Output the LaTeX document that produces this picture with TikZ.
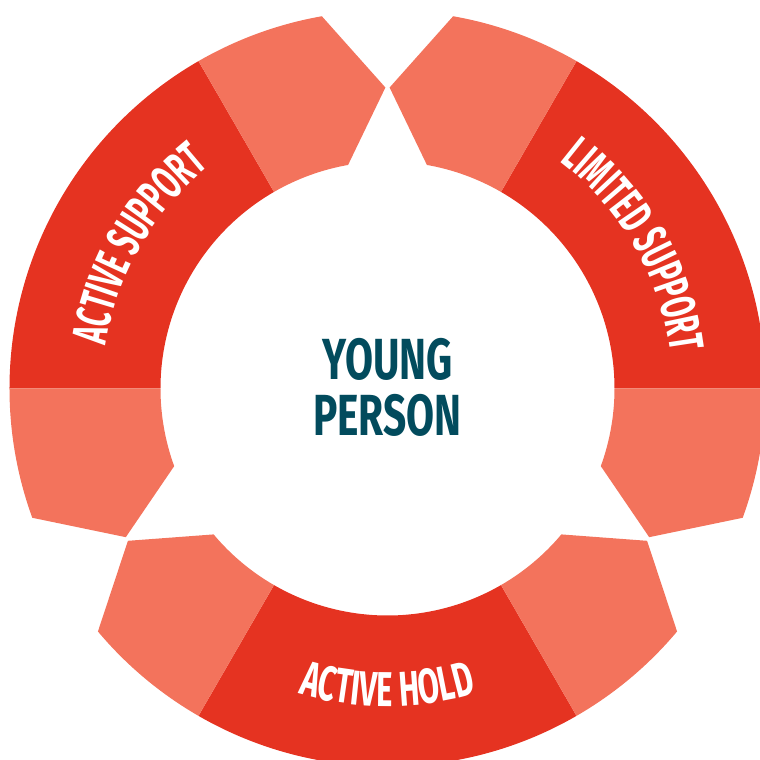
\documentclass[tikz,border=0pt]{standalone}
\usepackage{fontspec}
\usetikzlibrary{decorations.text}

\newfontfamily\bannerfont[FakeStretch=0.63]{Fira Sans}
\newfontfamily\narrowfont[FakeStretch=0.57]{Fira Sans}
\newfontfamily\personfont[FakeStretch=0.7]{Fira Sans}
\definecolor{ringdark}{RGB}{229,51,33}
\definecolor{ringlight}{RGB}{243,115,92}
\definecolor{personblue}{RGB}{2,75,93}

\newcommand{\bannerstyle}{\bannerfont\bfseries\fontsize{49}{49}\selectfont}
\newcommand{\narrowstyle}{\narrowfont\bfseries\fontsize{49}{49}\selectfont}

\tikzset{
  bannertext/.style={decorate, decoration={text along path, text align=center, text color=white, text={|\bannerstyle|#1}}},
  narrowtext/.style={decorate, decoration={text along path, text align=center, text color=white, text={|\narrowstyle|#1}}}
}

\begin{document}
\begin{tikzpicture}[x=1pt,y=1pt]
	% radii of the ring and of the pointed tips
	\def\rin{227}
	\def\rout{378}
	\def\rtip{301}

	\useasboundingbox (-387.5,-371.5) rectangle (372.5,388.5);
	\clip (-387.5,-371.5) rectangle (372.5,388.5);

	% dark sectors
	\foreach \from/\to in {0/60, 120/180, 240/300}
		{\fill[ringdark] (\from:\rout) arc[start angle=\from, end angle=\to, radius=\rout] -- (\to:\rin) arc[start angle=\to, end angle=\from, radius=\rin] -- cycle;}

	% light sectors, each one pointed towards a gap
	\foreach \tip/\near/\far in {90.4/100/120, 89.6/80/60, 210.4/220/240, 209.6/200/180, 330.4/340/360, 329.6/320/300}
		{\fill[ringlight] (\tip:\rtip) -- (\near:\rout) arc[start angle=\near, end angle=\far, radius=\rout] -- (\far:\rin) arc[start angle=\far, end angle=\near, radius=\rin] -- cycle;}

	% labels along the dark sectors
	\path[narrowtext={ACTIVE SUPPORT}] (180:285) arc[start angle=180, end angle=120, radius=285];
	\path[narrowtext={LIMITED SUPPORT}] (60:285) arc[start angle=60, end angle=0, radius=285];
	\path[bannertext={ACTIVE HOLD}] (240:318) arc[start angle=240, end angle=300, radius=318];

	\node[text=personblue, font=\personfont\bfseries\fontsize{58}{56}\selectfont, align=center] (person) at (0,1.5) {YOUNG\\PERSON};
\end{tikzpicture}
\end{document}
